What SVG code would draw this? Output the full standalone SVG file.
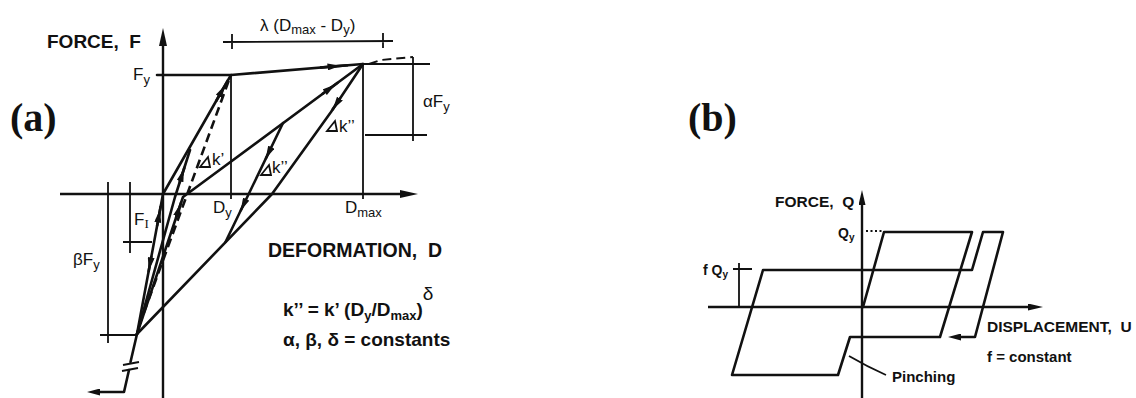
<svg xmlns="http://www.w3.org/2000/svg" width="1136" height="398" viewBox="0 0 1136 398">
<style>
 .ln{fill:none;stroke:#111;stroke-width:2.6;stroke-linejoin:round;stroke-linecap:round}
 .ax{fill:none;stroke:#111;stroke-width:2.4;stroke-linecap:butt}
 .th{fill:none;stroke:#111;stroke-width:1.8}
 .ds{fill:none;stroke:#111;stroke-width:2.6;stroke-dasharray:9 5}
 .ar{fill:none;stroke:#111;stroke-width:2.6;marker-mid:url(#ah)}
 .dot{fill:none;stroke:#111;stroke-width:2;stroke-dasharray:2 2.5}
 text{font-family:"Liberation Sans",Arial,sans-serif;fill:#111}
 .b{font-weight:bold}
 .ser{font-family:"Liberation Serif","Times New Roman",serif;font-weight:bold}
</style>
<defs>
 <marker id="ah" markerUnits="userSpaceOnUse" viewBox="0 0 13 7" markerWidth="13" markerHeight="7" refX="6.5" refY="3.5" orient="auto"><path d="M0,0 L13,3.5 L0,7 z" fill="#111"/></marker>
 <marker id="ae" markerUnits="userSpaceOnUse" viewBox="0 0 13 7" markerWidth="13" markerHeight="7" refX="5" refY="3.5" orient="auto"><path d="M0,0 L13,3.5 L0,7 z" fill="#111"/></marker>
 <marker id="ax" markerUnits="userSpaceOnUse" viewBox="0 0 18 8" markerWidth="18" markerHeight="8" refX="6" refY="4" orient="auto"><path d="M0,0 L18,4 L0,8 z" fill="#111"/></marker>
 <marker id="ax2" markerUnits="userSpaceOnUse" viewBox="0 0 15 7" markerWidth="15" markerHeight="7" refX="5" refY="3.5" orient="auto"><path d="M0,0 L15,3.5 L0,7 z" fill="#111"/></marker>
</defs>
<rect width="1136" height="398" fill="#fff"/>

<g id="panel-a">
 <text id="label-a" class="ser" x="10" y="131" font-size="40">(a)</text>
 <g id="axes-a">
  <path class="ax" d="M163,398 V40" marker-end="url(#ax)"/>
  <path class="ax" d="M60,194 H406" marker-end="url(#ax)"/>
  <text class="b" x="47" y="48" font-size="19" style="white-space:pre">FORCE,  F</text>
  <text class="b" x="268" y="257" font-size="19.5" style="white-space:pre">DEFORMATION,  D</text>
 </g>
 <g id="connectors-a">
  <path class="ln" d="M157,75 L231,75 L363,64"/>
  <polyline class="ar" points="320,67.6 334,66.4 348,65.25"/>
  <path class="ln" d="M163,194 L231,75"/>
  <polyline class="ar" points="216,101.25 222,90.75 228,80.25"/>
  <path class="ln" d="M137,334 L163,194"/>
  <polyline class="ar" points="157.1,226 158.9,216 160.7,206"/>
  <polyline class="ar" points="151.5,256 150,264 148.5,272"/>
  <path class="ln" d="M137,334 L175,197 L190,150"/>
  <polyline class="ar" points="179.5,183 182,175 184.6,167"/>
  <path class="ln" d="M137,334 L183,197 L363,64"/>
  <polyline class="ar" points="176,218 178.6,210 181.3,202"/>
  <polyline class="ar" points="322,94.3 330,88.4 338,82.5"/>
  <path class="ds" d="M139,326 L229,80"/>
  <path class="ln" d="M363,64 L331,112 L272,194 L137,334"/>
  <polyline class="ar" points="340.3,98 336.3,104 332.3,110"/>
  <path class="ln" d="M283,123 L225.5,242"/>
  <polyline class="ar" points="271.4,147 268.5,153 265.6,159"/>
  <polyline class="ar" points="246.3,199 243.4,205 240.5,211"/>
  <path class="ln" d="M137,334 L130.5,362"/>
  <path class="th" d="M123,365 L139,362 M122,371 L138,368"/>
  <path class="ln" d="M129,370 L124,392 L95,392" marker-end="url(#ae)"/>
 </g>
 <g id="dimensions-a">
  <path class="th" d="M231,75 V199 M363,64 V199"/>
  <path class="th" d="M223,42 L393,41 M232,34 V49 M383,33 V48"/>
  <path class="th" d="M363,64 H430 M365,135 H427 M413,57 V141"/>
  <path class="ds" style="stroke-width:2" d="M369,64 L381,60 L413,57"/>
  <path class="th" d="M108,182 V343 M100,335 H137"/>
  <path class="th" d="M130,182 V253 M123,242 H152"/>
 </g>
 <g id="stiffness-marks">
  <polygon class="th" points="200,167 210,167 208,157"/>
  <polygon class="th" points="261,175 271,175 269,165"/>
  <polygon class="th" points="327,131 337,131 335,121"/>
  <text x="212" y="165" font-size="17">k’</text>
  <text x="272" y="173" font-size="17">k’’</text>
  <text x="339" y="132" font-size="17">k’’</text>
 </g>
 <g id="labels-a">
  <text x="260" y="31" font-size="17">λ (D<tspan font-size="13" dy="3">max</tspan><tspan dy="-3"> - D</tspan><tspan font-size="13" dy="3">y</tspan><tspan dy="-3">)</tspan></text>
  <text x="133" y="80" font-size="17">F<tspan font-size="13" dy="4">y</tspan></text>
  <text x="423" y="107" font-size="17">αF<tspan font-size="13" dy="4">y</tspan></text>
  <text x="213" y="213" font-size="17">D<tspan font-size="13" dy="4">y</tspan></text>
  <text x="345" y="213" font-size="17">D<tspan font-size="13" dy="4">max</tspan></text>
  <text x="134" y="225" font-size="17">F<tspan font-size="13" dy="3" style="font-family:'Liberation Serif',serif">I</tspan></text>
  <text x="73" y="265" font-size="17">βF<tspan font-size="13" dy="4">y</tspan></text>
  <text class="b" x="283" y="316" font-size="19">k’’ = k’ (D<tspan font-size="13" dy="4">y</tspan><tspan dy="-4">/D</tspan><tspan font-size="13" dy="4">max</tspan><tspan dy="-4">)</tspan><tspan font-weight="normal" font-size="19" dy="-16">δ</tspan></text>
  <text class="b" x="283" y="346" font-size="19">α, β, δ = constants</text>
 </g>
</g>

<g id="panel-b">
 <text id="label-b" class="ser" x="688" y="131" font-size="40">(b)</text>
 <g id="axes-b">
  <path class="ax" d="M862,398 V200" marker-end="url(#ax2)"/>
  <path class="ax" d="M708,307 H1033" marker-end="url(#ax2)"/>
  <text class="b" x="775" y="207" font-size="15.5" style="white-space:pre">FORCE,  Q</text>
  <text class="b" x="987" y="332" font-size="15.5" style="white-space:pre">DISPLACEMENT,  U</text>
 </g>
 <g id="connectors-b">
  <path class="ln" d="M863,307 L884,232 L972,232 L940,337 L850,337 L838,375 L732,375 L763,270 L972,270 L983,232 L1003,232 L975,337 L956,337" marker-end="url(#ae)"/>
  <path class="dot" d="M866,231 H883"/>
  <path class="th" d="M739,263 V307 M733,269 H752"/>
  <path class="th" d="M849,356 Q866,366 886,375"/>
 </g>
 <g id="labels-b">
  <text class="b" x="838" y="238" font-size="14">Q<tspan font-size="10" dy="3">y</tspan></text>
  <text class="b" x="703" y="275" font-size="14">f Q<tspan font-size="10" dy="3">y</tspan></text>
  <text class="b" x="987" y="362" font-size="15">f = constant</text>
  <text class="b" x="892" y="382" font-size="15">Pinching</text>
 </g>
</g>
</svg>
